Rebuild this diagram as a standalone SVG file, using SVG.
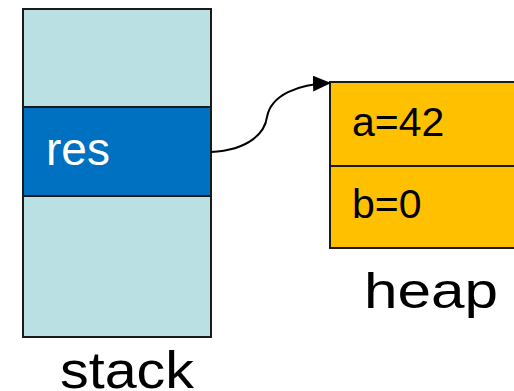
<svg xmlns="http://www.w3.org/2000/svg" width="514" height="391" viewBox="0 0 514 391">
<style>
.box{stroke:#1a1a1a;stroke-width:2}
.t{font-family:"Liberation Sans",Arial,sans-serif}
</style>
<defs>
<marker id="ah" markerWidth="18" markerHeight="16" refX="17" refY="8" orient="auto" markerUnits="userSpaceOnUse">
<path d="M0,0 L18,8 L0,16 Z" fill="#000"/>
</marker>
</defs>
<rect width="514" height="391" fill="#fff"/>
<g id="stack">
<rect class="box" x="23" y="9" width="188" height="98" fill="#BBE0E3"/>
<rect class="box" x="23" y="196" width="188" height="141" fill="#BBE0E3"/>
<text class="t" x="60" y="388" font-size="52" textLength="134" lengthAdjust="spacingAndGlyphs" fill="#000">stack</text>
</g>
<g id="res">
<rect class="box" x="23" y="107" width="188" height="89" fill="#0070C0"/>
<text class="t" x="46" y="165" font-size="46" fill="#fff">res</text>
</g>
<g id="heap">
<rect class="box" x="330" y="82" width="200" height="84" fill="#FFC000"/>
<rect class="box" x="330" y="166" width="200" height="82" fill="#FFC000"/>
<text class="t" x="352" y="136" font-size="41" fill="#000">a=42</text>
<text class="t" x="352" y="218" font-size="41" fill="#000">b=0</text>
<text class="t" x="364" y="308" font-size="50" textLength="134" lengthAdjust="spacingAndGlyphs" fill="#000">heap</text>
</g>
<g id="connectors">
<path d="M211,152 C250,150 265,132 267,117 C271,95 298,84 330,83" fill="none" stroke="#000" stroke-width="2" marker-end="url(#ah)"/>
</g>
</svg>
